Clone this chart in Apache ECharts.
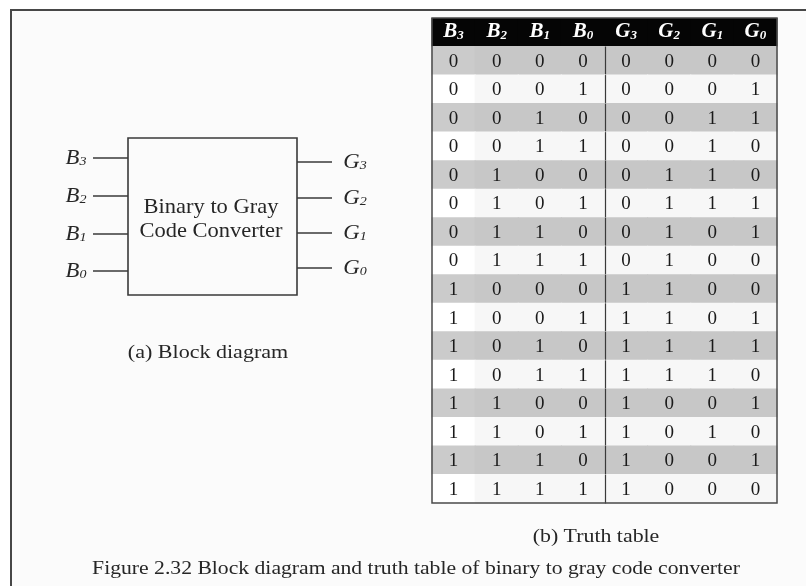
<!DOCTYPE html>
<html>
<head>
<meta charset="utf-8">
<script src="https://cdn.jsdelivr.net/npm/echarts@6/dist/echarts.min.js"></script>
<style>
  html, body { margin: 0; padding: 0; background: #ffffff; }
  #chart { width: 806px; height: 586px; }
</style>
</head>
<body>
<div id="chart"></div>
<script>
// ---- Data ----
const headerLetters = ['B', 'B', 'B', 'B', 'G', 'G', 'G', 'G'];
const headerSubs = ['3', '2', '1', '0', '3', '2', '1', '0'];
const binaryRows = [
  [0,0,0,0],[0,0,0,1],[0,0,1,0],[0,0,1,1],
  [0,1,0,0],[0,1,0,1],[0,1,1,0],[0,1,1,1],
  [1,0,0,0],[1,0,0,1],[1,0,1,0],[1,0,1,1],
  [1,1,0,0],[1,1,0,1],[1,1,1,0],[1,1,1,1]
];
const grayRows = [
  [0,0,0,0],[0,0,0,1],[0,0,1,1],[0,0,1,0],
  [0,1,1,0],[0,1,1,1],[0,1,0,1],[0,1,0,0],
  [1,1,0,0],[1,1,0,1],[1,1,1,1],[1,1,1,0],
  [1,0,0,1],[1,0,1,0],[1,0,0,1],[1,0,0,0]
];
const inputLabels = ['3', '2', '1', '0'];
const outputLabels = ['3', '2', '1', '0'];
const blockTitle = ['Binary to Gray', 'Code Converter'];
const captionA = '(a) Block diagram';
const captionB = '(b) Truth table';
const figureCaption = 'Figure 2.32 Block diagram and truth table of binary to gray code converter';

// ---- Build table data ----
const colCats = headerLetters.map((l, i) => l + headerSubs[i]);
const rowCats = ['h'].concat(binaryRows.map((_, i) => 'r' + i));
const cells = [];
headerLetters.forEach((l, c) => cells.push([c, 0, 'H']));
binaryRows.forEach((row, r) => {
  row.concat(grayRows[r]).forEach((v, c) => cells.push([c, r + 1, v]));
});

const serif = '"Liberation Serif", "Times New Roman", serif';
const ink = '#262626';

function renderItem(params, api) {
  const c = api.value(0), r = api.value(1);
  const center = api.coord([c, r]);
  const size = api.size([1, 1]);
  const x = center[0] - size[0] / 2, y = center[1] - size[1] / 2;
  const children = [];
  if (r === 0) {
    children.push({ type: 'rect', shape: { x: x - 0.5, y: y, width: size[0] + 1, height: size[1] }, style: { fill: '#050505' } });
    children.push({
      type: 'text',
      style: {
        x: center[0], y: center[1] - 1,
        text: '{m|' + headerLetters[c] + '}{s|' + headerSubs[c] + '}',
        align: 'center', verticalAlign: 'middle',
        rich: {
          m: { fontFamily: serif, fontStyle: 'italic', fontWeight: 'bold', fontSize: 21, fill: '#ffffff', lineHeight: 22 },
          s: { fontFamily: serif, fontStyle: 'italic', fontWeight: 'bold', fontSize: 13, fill: '#ffffff', lineHeight: 22, padding: [8, 0, 0, 0] }
        }
      }
    });
  } else {
    const dataRow = r - 1;
    let fill;
    if (dataRow % 2 === 0) fill = c === 0 ? '#cbcbcb' : '#c7c7c7';
    else fill = c === 0 ? '#ffffff' : '#f7f7f7';
    children.push({ type: 'rect', shape: { x: x - 0.5, y: y - 0.5, width: size[0] + 1, height: size[1] + 1 }, style: { fill: fill } });
    children.push({
      type: 'text',
      style: {
        x: center[0], y: center[1] + 1,
        text: String(api.value(2)),
        align: 'center', verticalAlign: 'middle',
        fontFamily: serif, fontSize: 19, fill: '#1a1a1a'
      }
    });
    if (c === 4) {
      children.push({ type: 'line', shape: { x1: x + 1, y1: y, x2: x + 1, y2: y + size[1] + 0.5 }, style: { stroke: '#3a3a3a', lineWidth: 1.2 } });
    }
  }
  return { type: 'group', children: children };
}

function stretchedText(x, y, text, size, sx) {
  return {
    type: 'text', x: x, y: y, scaleX: sx,
    style: { x: 0, y: 0, text: text, align: 'center', verticalAlign: 'middle', fontFamily: serif, fontSize: size, fill: ink }
  };
}

function subLabel(x, y, letter, sub) {
  return {
    type: 'text', x: x, y: y, scaleX: 1.08,
    style: {
      x: 0, y: 0, text: '{m|' + letter + '}{s|' + sub + '}', align: 'center', verticalAlign: 'middle',
      rich: {
        m: { fontFamily: serif, fontStyle: 'italic', fontSize: 21, fill: ink, lineHeight: 24 },
        s: { fontFamily: serif, fontStyle: 'italic', fontSize: 13, fill: ink, lineHeight: 24, padding: [8, 0, 0, 0] }
      }
    }
  };
}

// ---- Block diagram graphics ----
const boxL = 128, boxR = 297, boxT = 138, boxB = 295;
const inY = [158, 196, 234, 271];
const outY = [162, 198, 233, 268];
const graphics = [];
graphics.push({ type: 'rect', shape: { x: 11, y: 10, width: 820, height: 600 }, style: { fill: '#fbfbfb', stroke: '#474747', lineWidth: 2 }, z: -10 });
graphics.push({ type: 'rect', shape: { x: boxL, y: boxT, width: boxR - boxL, height: boxB - boxT }, style: { fill: '#fbfbfb', stroke: '#3a3a3a', lineWidth: 1.6 } });
inputLabels.forEach((s, i) => {
  graphics.push({ type: 'line', shape: { x1: 93, y1: inY[i], x2: boxL, y2: inY[i] }, style: { stroke: '#3a3a3a', lineWidth: 1.6 } });
  graphics.push(subLabel(76, inY[i], 'B', s));
});
outputLabels.forEach((s, i) => {
  graphics.push({ type: 'line', shape: { x1: boxR, y1: outY[i], x2: 332, y2: outY[i] }, style: { stroke: '#3a3a3a', lineWidth: 1.6 } });
  graphics.push(subLabel(355, outY[i], 'G', s));
});
graphics.push(stretchedText(211, 207, blockTitle[0], 21, 1.07));
graphics.push(stretchedText(211, 231, blockTitle[1], 21, 1.07));
graphics.push(stretchedText(208, 353, captionA, 19, 1.16));
graphics.push(stretchedText(596, 537, captionB, 19, 1.15));
graphics.push(stretchedText(416, 569, figureCaption, 19, 1.14));

const chart = echarts.init(document.getElementById('chart'), null, { renderer: 'canvas' });
chart.setOption({
  backgroundColor: '#ffffff',
  animation: false,
  graphic: graphics,
  grid: { left: 432, top: 18, width: 345, height: 485, show: true, borderColor: '#4a4a4a', borderWidth: 1.5, backgroundColor: 'transparent', z: 3 },
  xAxis: { type: 'category', data: colCats, show: false },
  yAxis: { type: 'category', data: rowCats, inverse: true, show: false },
  series: [{ type: 'custom', renderItem: renderItem, data: cells, z: 2 }]
});
</script>
</body>
</html>
